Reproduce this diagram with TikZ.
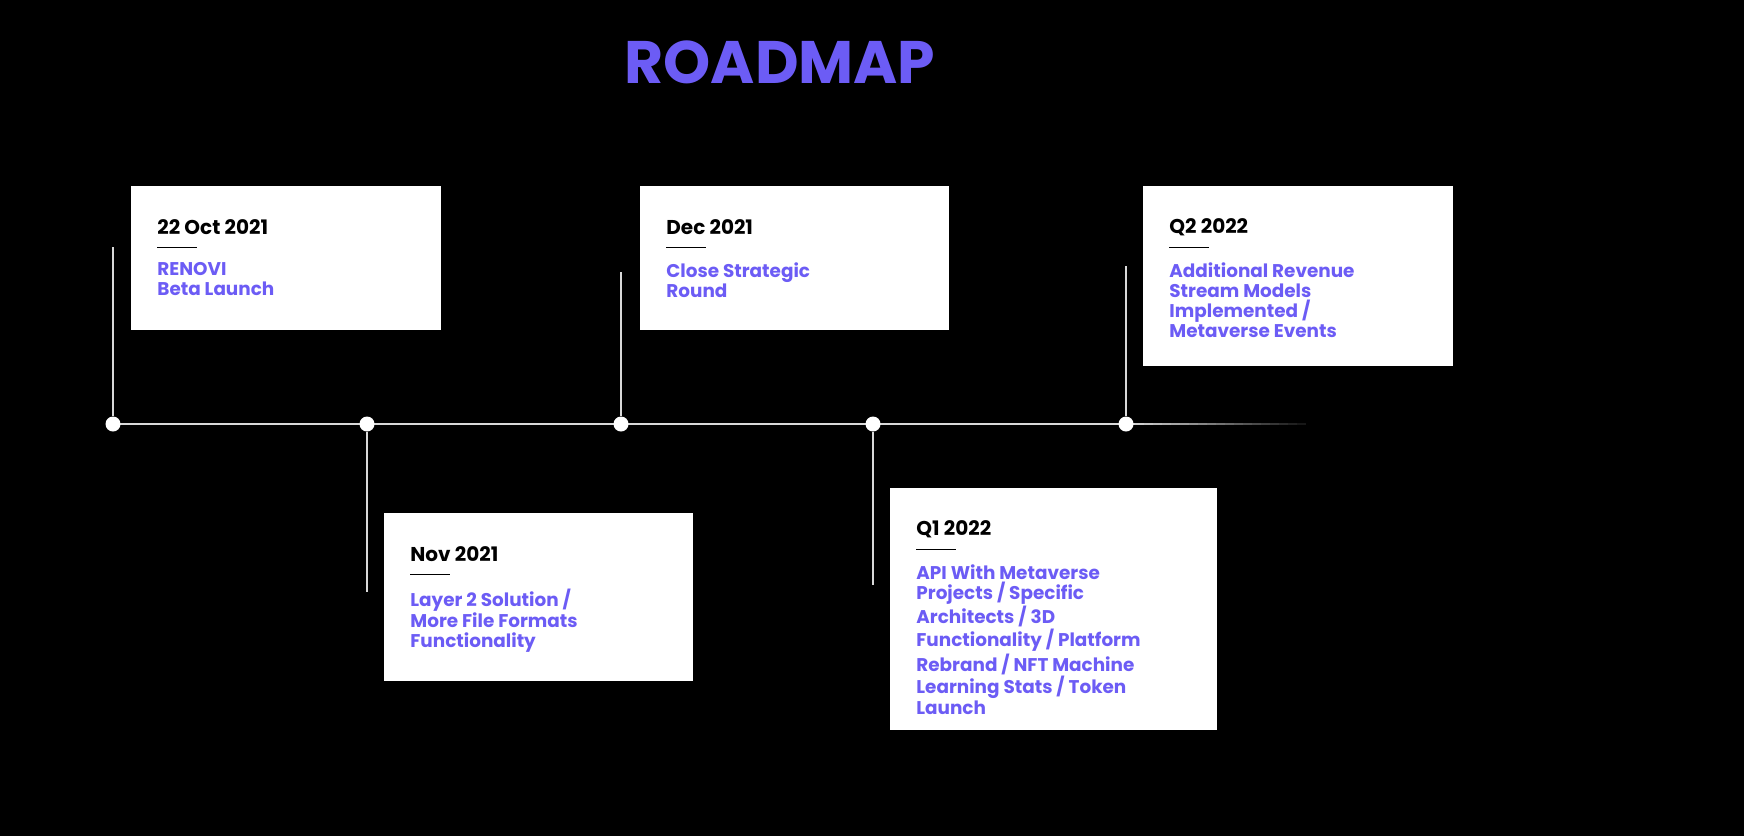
\documentclass[tikz,border=0pt]{standalone}
\usepackage{fontspec}
\setmainfont{Poppins}
\usetikzlibrary{positioning}
\definecolor{rmpurple}{RGB}{108,92,245}
\tikzset{
  card/.style={fill=white, draw=none},
  stem/.style={draw=white!85!black, line width=0.6pt},
  dot/.style={circle, fill=white, inner sep=0pt, minimum size=7.5pt},
  datetext/.style={anchor=west, inner sep=0pt, font=\fontsize{10}{12}\selectfont\bfseries, text=black},
  bodytext/.style={anchor=north west, inner sep=0pt, align=left, text=rmpurple,
    font=\fontsize{9.2}{10.1}\selectfont\bfseries}
}
\newcommand{\rmcard}[5]{% name, x1, y1, x2, y2
  \fill[card] (#2,#3) rectangle (#4,#5);
  \coordinate (#1d) at (#2+26,#3+41);
  \coordinate (#1r) at (#2+26,#3+61);
  \coordinate (#1b) at (#2+26,#3+76);
}
\begin{document}
\begin{tikzpicture}[x=0.5pt,y=0.5pt,yscale=-1]
\useasboundingbox[fill=black] (0,0) rectangle (1744,836);

% title
\node[text=rmpurple, font=\fontsize{30}{30}\selectfont\bfseries] (title) at (780,62) {ROADMAP};

% timeline
\foreach \i in {0,...,19}
  \draw[draw=white!\the\numexpr 85-4*\i\relax!black, line width=0.6pt] (1126+9*\i,424) -- (1135+9*\i,424);
\draw[stem] (113,424) -- (1126,424);
\foreach \n/\x in {a/113, b/367, c/621, d/873, e/1126}
  \node[dot] (\n) at (\x,424) {};
\coordinate (ta) at (113,247);
\coordinate (tb) at (367,592);
\coordinate (tc) at (621,272);
\coordinate (td) at (873,585);
\coordinate (te) at (1126,266);
\foreach \n in {a,b,c,d,e}
  \draw[stem] (\n) -- (t\n);

% cards
\rmcard{ca}{131}{186}{441}{330}
\rmcard{cb}{384}{513}{693}{681}
\rmcard{cc}{640}{186}{949}{330}
\rmcard{cd}{890}{488}{1217}{730}
\rmcard{ce}{1143}{186}{1453}{366}

\node[datetext] at (cad) {22 Oct 2021};
\node[datetext] at (cbd) {Nov 2021};
\node[datetext] at (ccd) {Dec 2021};
\node[datetext] at (cdd) {Q1 2022};
\node[datetext] at (ced) {Q2 2022};

\foreach \n in {ca,cb,cc,cd,ce}
  \draw[black, line width=0.5pt] (\n r) -- ++(40,0);

\node[bodytext] at (cab) {RENOVI\\Beta Launch};
\node[bodytext] at (cbb) {Layer 2 Solution /\\More File Formats\\Functionality};
\node[bodytext] at (ccb) {Close Strategic\\Round};
\node[bodytext] at (cdb) {API With Metaverse\\Projects / Specific\\Architects / 3D\\Functionality / Platform\\Rebrand / NFT Machine\\Learning Stats / Token\\Launch};
\node[bodytext] at (ceb) {Additional Revenue\\Stream Models\\Implemented /\\Metaverse Events};
\end{tikzpicture}
\end{document}
